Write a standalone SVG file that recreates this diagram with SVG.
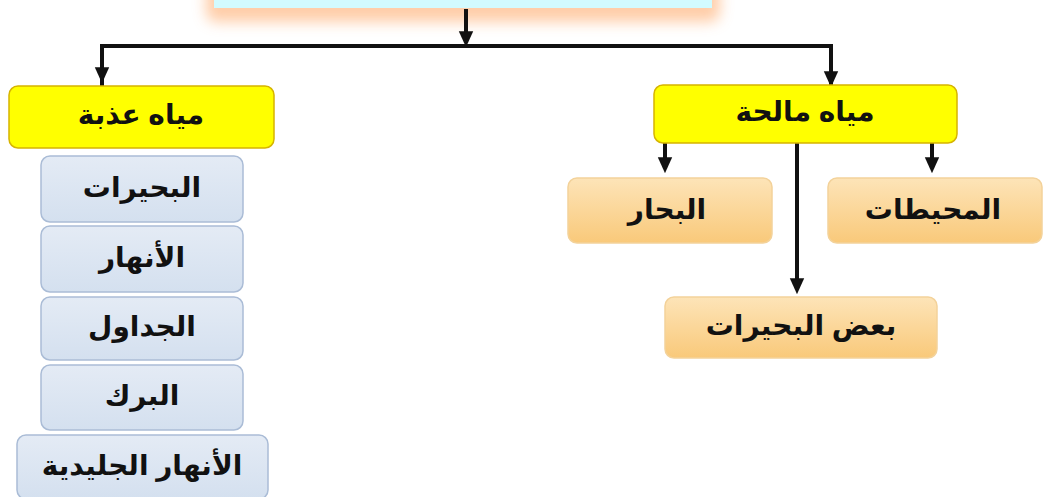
<svg xmlns="http://www.w3.org/2000/svg" width="1048" height="497" viewBox="0 0 1048 497">
<defs>
<marker id="ah" markerWidth="4" markerHeight="4" refX="2.2" refY="2" orient="auto" markerUnits="strokeWidth" viewBox="0 0 4 4">
<path d="M0,0.2 L4,2 L0,3.8 Z" fill="#111"/>
</marker>
<linearGradient id="og" x1="0" y1="0" x2="0" y2="1">
<stop offset="0" stop-color="#fde4b8"/>
<stop offset="1" stop-color="#f9c97a"/>
</linearGradient>
<linearGradient id="bg" x1="0" y1="0" x2="0" y2="1">
<stop offset="0" stop-color="#e4ebf5"/>
<stop offset="1" stop-color="#d4e0ef"/>
</linearGradient>
<filter id="glow" x="-20%" y="-200%" width="140%" height="500%">
<feGaussianBlur stdDeviation="7"/>
</filter>
</defs>
<style>
text{font-family:"Liberation Sans","DejaVu Sans",Arial,sans-serif;font-weight:bold;font-size:28px;fill:#111;text-anchor:middle;dominant-baseline:central}
.y{fill:#ffff00;stroke:#d6b400;stroke-width:1.5}
.o{fill:url(#og);stroke:#f3d29a;stroke-width:1.5}
.b{fill:url(#bg);stroke:#aabcd6;stroke-width:1.5}
.c{stroke:#111;stroke-width:4;fill:none}
</style>
<g id="top">
<rect x="206" y="-40" width="514" height="62" rx="10" fill="#ffc59a" opacity="0.85" filter="url(#glow)"/>
<rect x="214" y="-30" width="498" height="38" fill="#d2fbff"/>
</g>
<g id="connectors">
<path class="c" d="M466,9 V40" marker-end="url(#ah)"/>
<path class="c" d="M102,86 V46 H831 V90" />
<path class="c" d="M102,46 V76" marker-end="url(#ah)"/>
<path class="c" d="M831,46 V80" marker-end="url(#ah)"/>
<path class="c" d="M665,143 V166" marker-end="url(#ah)"/>
<path class="c" d="M932,143 V166" marker-end="url(#ah)"/>
<path class="c" d="M797,143 V287" marker-end="url(#ah)"/>
</g>
<g id="fresh"><rect class="y" x="9" y="86" width="265" height="62" rx="9"/><text x="141" y="114">مياه عذبة</text></g>
<g id="lakes"><rect class="b" x="41" y="156" width="202" height="66" rx="9"/><text x="142" y="187">البحيرات</text></g>
<g id="rivers"><rect class="b" x="41" y="226" width="202" height="66" rx="9"/><text x="142" y="257">الأنهار</text></g>
<g id="streams"><rect class="b" x="41" y="297" width="202" height="63" rx="9"/><text x="142" y="326">الجداول</text></g>
<g id="ponds"><rect class="b" x="41" y="365" width="202" height="65" rx="9"/><text x="142" y="395">البرك</text></g>
<g id="glaciers"><rect class="b" x="17" y="435" width="251" height="64" rx="9"/><text x="142" y="465">الأنهار الجليدية</text></g>
<g id="salt"><rect class="y" x="654" y="85" width="303" height="58" rx="9"/><text x="805" y="111">مياه مالحة</text></g>
<g id="seas"><rect class="o" x="568" y="178" width="204" height="65" rx="9"/><text x="667" y="209">البحار</text></g>
<g id="oceans"><rect class="o" x="828" y="178" width="214" height="65" rx="9"/><text x="933" y="209">المحيطات</text></g>
<g id="somelakes"><rect class="o" x="665" y="297" width="272" height="61" rx="9"/><text x="801" y="325">بعض البحيرات</text></g>
</svg>
